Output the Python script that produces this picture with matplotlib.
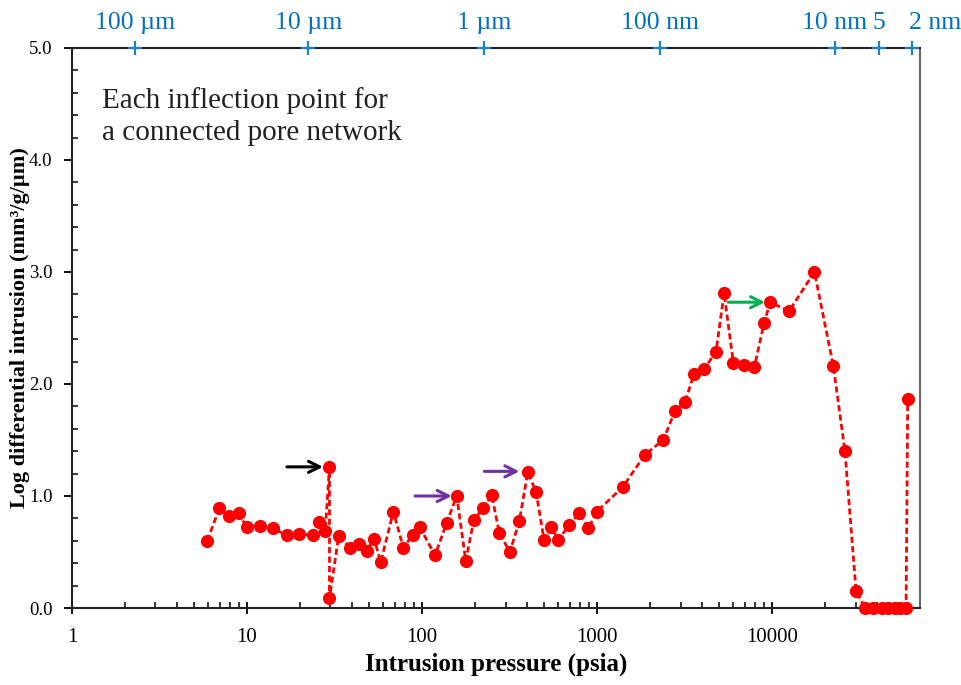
import matplotlib
matplotlib.use('Agg')
import matplotlib.pyplot as plt
import matplotlib.transforms as mtransforms
import numpy as np

plt.rcParams['font.family'] = ['Liberation Serif', 'DejaVu Serif']

# mercury intrusion: pressure (psia) vs log differential intrusion (mm3/g/um)
pressure = [
    5.93, 6.95, 7.92, 8.96, 9.96, 11.9, 14.0, 16.9, 19.9, 23.7,
    25.9, 28.0, 29.6, 29.6, 33.4,
    38.8, 43.6, 48.3, 53.2, 58.1, 68.6, 78.2, 88.5, 97.4, 118.7,
    138.3, 157.9, 177.8, 198, 224, 250, 276.6, 318, 360, 402,
    448, 498, 546, 601, 695, 789, 892, 996, 1403, 1880,
    2393, 2790, 3184, 3583, 4086, 4786, 5321, 6010, 6949, 7924,
    8995, 9747, 12510, 17470, 22400, 26100, 30200,
    34000, 37900, 42400, 46200, 50500, 53900, 58300, 59600]
log_diff = [
    0.60, 0.89, 0.82, 0.85, 0.72, 0.73, 0.71, 0.65, 0.66, 0.65,
    0.77, 0.69, 1.26, 0.09, 0.64,
    0.54, 0.57, 0.51, 0.62, 0.41, 0.86, 0.54, 0.65, 0.72, 0.47,
    0.76, 1.00, 0.42, 0.79, 0.89, 1.01, 0.67, 0.50, 0.78, 1.21,
    1.04, 0.61, 0.72, 0.61, 0.74, 0.85, 0.71, 0.86, 1.08, 1.37,
    1.50, 1.76, 1.84, 2.09, 2.13, 2.29, 2.81, 2.19, 2.17, 2.15,
    2.54, 2.73, 2.65, 3.00, 2.16, 1.40, 0.15,
    0.0, 0.0, 0.0, 0.0, 0.0, 0.0, 0.0, 1.87]

# pore throat diameter scale along the top
pore_pressure = [2.29, 22.4, 227, 2290, 22900, 40900, 62900]
pore_labels = ['100 µm', '10 µm', '1 µm', '100 nm', '10 nm', '5', '2 nm']

# arrows marking the inflection points: (x start, x end, y, colour)
arrows = [
    (16.9, 27.2, 1.26, 'black'),
    (91.2, 147.8, 1.00, '#7030A0'),
    (227, 360, 1.22, '#7030A0'),
    (5630, 9120, 2.73, '#00B050'),
]

fig = plt.figure(figsize=(9.62, 6.85), dpi=100)
ax = fig.add_axes([0.0748, 0.1124, 0.8815, 0.8176])

ax.plot(pressure, log_diff, color='red', linestyle=(0, (2.2, 1.2)),
        linewidth=2.0, marker='o', markersize=9.5, markeredgewidth=0,
        clip_on=False, zorder=3)

ax.set_xscale('log')
ax.set_xlim(1, 70000)
ax.set_ylim(0, 5)
ax.set_yticks(np.arange(0, 5.01, 1.0))
ax.set_yticks(np.arange(0, 5.01, 0.2), minor=True)
ax.yaxis.set_major_formatter(matplotlib.ticker.FormatStrFormatter('%.1f'))
ax.set_xticks([1, 10, 100, 1000, 10000])
ax.set_xticklabels(['1', '10', '100', '1000', '10000'])

ax.tick_params(axis='x', which='major', direction='inout', length=9,
               width=1.3, labelsize=15, pad=10)
ax.tick_params(axis='y', which='major', direction='out', length=6,
               width=1.3, labelsize=13.5, pad=8)
ax.tick_params(which='minor', direction='in', length=4, width=1.1)
ax.tick_params(axis='x', which='minor', labelbottom=False)

for side in ['left', 'bottom', 'top']:
    ax.spines[side].set_linewidth(1.5)
    ax.spines[side].set_color('#222222')
ax.spines['right'].set_linewidth(1.5)
ax.spines['right'].set_color('#666666')

ax.set_xlabel('Intrusion pressure (psia)', fontsize=18, fontweight='bold',
              labelpad=4)
ax.set_ylabel('Log differential intrusion (mm³/g/µm)',
              fontsize=16, fontweight='bold')
ax.yaxis.set_label_coords(-0.049, 0.5)

# top scale: blue crosses on the spine with their labels
top = ax.twiny()
top.set_xscale('log')
top.set_xlim(ax.get_xlim())
top.set_xticks(pore_pressure)
top.set_xticklabels(pore_labels, color='#0070C0', fontsize=18.5)
top.tick_params(axis='x', which='both', length=0, pad=10)
top.xaxis.set_minor_locator(matplotlib.ticker.NullLocator())
last = top.get_xticklabels()[-1]
last.set_horizontalalignment('left')
last.set_transform(last.get_transform() +
                   mtransforms.ScaledTranslation(-3 / 100, 0,
                                                 fig.dpi_scale_trans))
for s in top.spines.values():
    s.set_visible(False)
trans = mtransforms.blended_transform_factory(ax.transData, ax.transAxes)
ax.plot(pore_pressure, [1.0] * len(pore_pressure), linestyle='none',
        marker='+', markersize=10, markeredgewidth=1.6, color='#1E7FD0',
        transform=trans, clip_on=False, zorder=5)

for x0, x1, y, c in arrows:
    ax.annotate('', xy=(x1, y), xytext=(x0, y),
                arrowprops=dict(arrowstyle='->', color=c, lw=2.2,
                                mutation_scale=20, shrinkA=0, shrinkB=0))

ax.text(0.036, 0.93, 'Each inflection point for\na connected pore network',
        transform=ax.transAxes, fontsize=21, color='#222222', va='top',
        linespacing=1.3)

fig.savefig('out.png', dpi=100)
